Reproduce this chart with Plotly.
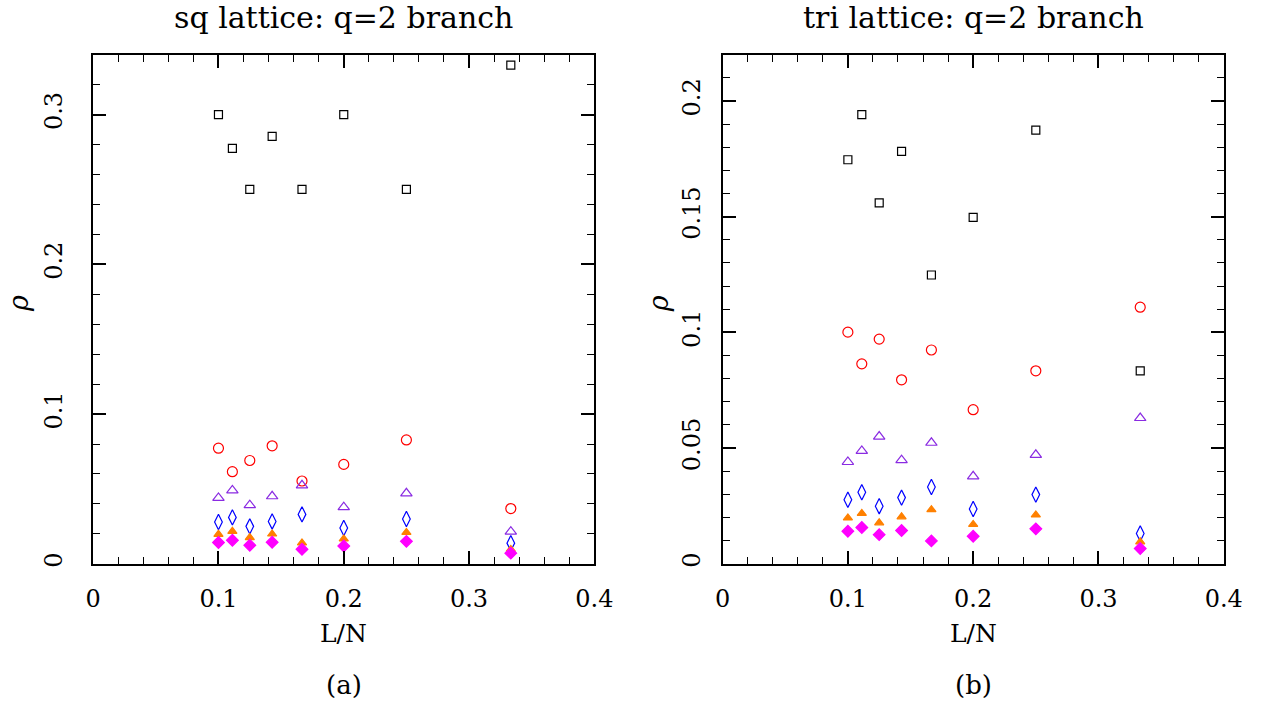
import plotly.graph_objects as go

# ---------------- data ----------------
LN = [1/10, 1/9, 1/8, 1/7, 1/6, 1/5, 1/4, 1/3]

sq_square   = [0.300, 0.2775, 0.250, 0.2855, 0.250, 0.300, 0.250, 0.333]
sq_circle   = [0.0772, 0.0615, 0.069, 0.0788, 0.0553, 0.0664, 0.0827, 0.0369]
sq_tri_open = [0.044, 0.049, 0.0392, 0.0451, 0.0524, 0.0378, 0.0471, 0.0215]
sq_diamond  = [0.0279, 0.031, 0.025, 0.0283, 0.033, 0.0239, 0.0299, 0.0138]
sq_tri_fill = [0.0197, 0.0217, 0.0175, 0.0199, 0.0139, 0.0166, 0.021, 0.0096]
sq_dia_fill = [0.0142, 0.0157, 0.0124, 0.0144, 0.0097, 0.0119, 0.015, 0.0071]

tri_square   = [0.1746, 0.1941, 0.156, 0.1782, 0.1248, 0.1497, 0.1874, 0.0834]
tri_circle   = [0.1001, 0.0864, 0.0971, 0.0795, 0.0924, 0.0666, 0.0834, 0.1109]
tri_tri_open = [0.044, 0.0488, 0.055, 0.0448, 0.0523, 0.0378, 0.0471, 0.063]
tri_diamond  = [0.0277, 0.0309, 0.0249, 0.0286, 0.0332, 0.0237, 0.0299, 0.0131]
tri_tri_fill = [0.0198, 0.0218, 0.0177, 0.0203, 0.0234, 0.017, 0.0211, 0.0095]
tri_dia_fill = [0.0141, 0.0157, 0.0126, 0.0144, 0.0099, 0.0119, 0.0151, 0.0066]

titles = ["sq lattice: q=2 branch", "tri lattice: q=2 branch"]
sublabels = ["(a)", "(b)"]
x_label = "L/N"
y_label = "<i>ρ</i>"
x_ticks = [0, 0.1, 0.2, 0.3, 0.4]
x_ticktext = ["0", "0.1", "0.2", "0.3", "0.4"]
y_ticks_sq = [0, 0.1, 0.2, 0.3]
y_ticktext_sq = ["0", "0.1", "0.2", "0.3"]
y_ticks_tri = [0, 0.05, 0.1, 0.15, 0.2]
y_ticktext_tri = ["0", "0.05", "0.1", "0.15", "0.2"]

# ---------------- figure ----------------
W, H = 1278, 710
FONT = "DejaVu Serif"

styles = [
    dict(symbol="square-open", color="#000000", size=8),
    dict(symbol="circle-open", color="#ff0000", size=10),
    dict(symbol="triangle-up-open", color="#8a2be2", size=10),
    dict(symbol="diamond-tall-open", color="#0000ff", size=11),
    dict(symbol="triangle-up", color="#ff8000", size=8),
    dict(symbol="diamond", color="#ff00ff", size=9),
]

fig = go.Figure()

panels = [
    (["x", "y"], [sq_square, sq_circle, sq_tri_open, sq_diamond, sq_tri_fill, sq_dia_fill]),
    (["x2", "y2"], [tri_square, tri_circle, tri_tri_open, tri_diamond, tri_tri_fill, tri_dia_fill]),
]
for (xa, ya), series in panels:
    for s, st in zip(series, styles):
        fig.add_trace(go.Scatter(
            x=LN, y=s, mode="markers", xaxis=xa, yaxis=ya, showlegend=False,
            marker=dict(symbol=st["symbol"], size=st["size"], color=st["color"],
                        line=dict(color=st["color"], width=1.2)),
        ))

L1, R1 = 87, 599
L2, R2 = 730, 1242
TOP, BOT = 55, 567

def px(x):
    return x / W

def py(y):
    return 1 - y / H

axis_common = dict(
    showline=True, linecolor="black", linewidth=2, mirror="allticks",
    ticks="inside", ticklen=13, tickwidth=1.6, tickcolor="black",
    showgrid=False, zeroline=False,
    tickfont=dict(family=FONT, size=24, color="black"),
)

minor_x = dict(ticks="inside", ticklen=7, tickwidth=1.4, tickcolor="black", dtick=0.02, tick0=0)

xcommon = dict(axis_common, range=[0, 0.4], tickvals=x_ticks, ticktext=x_ticktext,
               ticklabelstandoff=12, minor=minor_x)

fig.update_layout(
    width=W, height=H, margin=dict(l=0, r=0, t=0, b=0),
    paper_bgcolor="white", plot_bgcolor="white",
    xaxis=dict(xcommon, domain=[px(L1), px(R1)], anchor="y"),
    xaxis2=dict(xcommon, domain=[px(L2), px(R2)], anchor="y2"),
    yaxis=dict(axis_common, domain=[py(BOT), py(TOP)], anchor="x", range=[0, 0.34],
               tickvals=y_ticks_sq, ticktext=y_ticktext_sq, tickangle=-90, ticklabelstandoff=20,
               minor=dict(ticks="inside", ticklen=7, tickwidth=1.4, tickcolor="black", dtick=0.02, tick0=0)),
    yaxis2=dict(axis_common, domain=[py(BOT), py(TOP)], anchor="x2", range=[0, 0.22],
                tickvals=y_ticks_tri, ticktext=y_ticktext_tri, tickangle=-90, ticklabelstandoff=11,
                minor=dict(ticks="inside", ticklen=7, tickwidth=1.4, tickcolor="black", dtick=0.01, tick0=0)),
)

for i, (l, r) in enumerate([(L1, R1), (L2, R2)]):
    cx = px((l + r) / 2)
    fig.add_annotation(x=cx, y=py(18), xref="paper", yref="paper", text=titles[i],
                       showarrow=False, font=dict(family=FONT, size=30, color="black"),
                       xanchor="center", yanchor="middle")
    fig.add_annotation(x=cx, y=py(637), xref="paper", yref="paper", text=x_label,
                       showarrow=False, font=dict(family=FONT, size=25, color="black"),
                       xanchor="center", yanchor="middle")
    fig.add_annotation(x=cx, y=py(689), xref="paper", yref="paper", text=sublabels[i],
                       showarrow=False, font=dict(family=FONT, size=26, color="black"),
                       xanchor="center", yanchor="middle")
    fig.add_annotation(x=px(l - (76 if i == 0 else 66)), y=py((TOP + BOT) / 2 - 6),
                       xref="paper", yref="paper", text=y_label, textangle=-90,
                       showarrow=False, font=dict(family=FONT, size=27, color="black"),
                       xanchor="center", yanchor="middle")

fig.write_html("out.html")
